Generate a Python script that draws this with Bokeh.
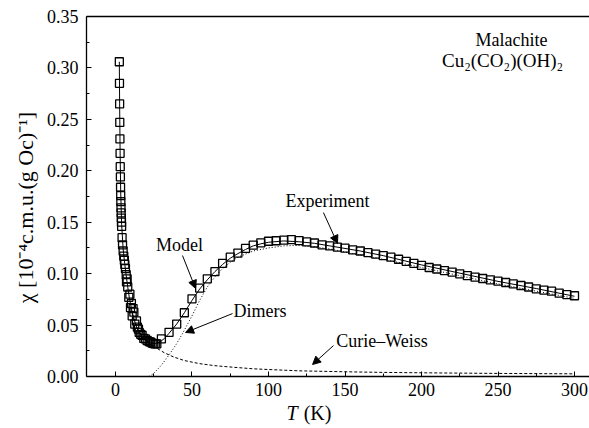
import math
from bokeh.plotting import figure
from bokeh.models import FixedTicker, Label, Arrow, NormalHead, PrintfTickFormatter, LinearAxis
from bokeh.embed import file_html
from bokeh.resources import INLINE

# ---- data ----
exp_T_low = [2.5, 2.6, 2.7, 2.8, 2.9, 3.0, 3.1, 3.2, 3.3, 3.4, 3.5, 3.6, 3.7, 3.8, 3.9, 4.0,
             4.3, 4.6, 5.0, 5.4, 5.8, 6.1, 6.5, 7.0, 7.2, 7.6, 8.0, 8.7, 9.4, 9.8, 10.4, 10.9,
             11.5, 12.0, 12.6, 13.7, 14.3, 15.0, 15.5, 16.5, 17.4, 18.5, 19.5, 20.7, 22.0,
             23.0, 24.0, 25.0, 26.0, 27.0]
exp_chi_low = [0.306, 0.285, 0.265, 0.247, 0.231, 0.217, 0.204, 0.194, 0.184, 0.176, 0.170,
               0.164, 0.159, 0.154, 0.150, 0.146, 0.135, 0.128, 0.122, 0.117, 0.113, 0.109,
               0.105, 0.099, 0.092, 0.095, 0.087, 0.077, 0.080, 0.067, 0.071, 0.059, 0.066,
               0.0625, 0.051, 0.054, 0.048, 0.046, 0.043, 0.041, 0.040, 0.037, 0.0365, 0.035,
               0.034, 0.0334, 0.0324, 0.032, 0.0318, 0.0318]
exp_T_high = [30, 35, 40, 45, 50, 55, 60, 65, 70, 75, 80, 85, 90, 95, 100, 105, 110, 115, 120,
              125, 130, 135, 140, 145, 150, 155, 160, 165, 170, 175, 180, 185, 190, 195, 200,
              205, 210, 215, 220, 225, 230, 235, 240, 245, 250, 255, 260, 265, 270, 275, 280,
              285, 290, 295, 300]
exp_chi_high = [0.0366, 0.043, 0.051, 0.062, 0.0755, 0.086, 0.095, 0.102, 0.110, 0.116, 0.120,
                0.1245, 0.1277, 0.130, 0.1315, 0.132, 0.1325, 0.133, 0.1322, 0.1308, 0.1298,
                0.128, 0.127, 0.1257, 0.1248, 0.1232, 0.122, 0.1205, 0.119, 0.1176, 0.116,
                0.114, 0.112, 0.110, 0.108, 0.106, 0.1045, 0.103, 0.1015, 0.0998, 0.098,
                0.0966, 0.0953, 0.094, 0.0927, 0.0914, 0.090, 0.0885, 0.087, 0.0852, 0.084,
                0.083, 0.081, 0.0797, 0.0785]

model_T = [2.5, 2.7, 3.0, 3.4, 4.0, 5.0, 6.0, 7.0, 8.0, 9.0, 10, 11, 12.5, 14, 16, 18, 20, 23,
           26, 29, 32, 35, 40, 45, 50, 55, 60, 65, 70, 75, 80, 85, 90, 95, 100, 110, 120, 130,
           140, 150, 160, 175, 200, 225, 250, 275, 300]
model_chi = [0.306, 0.265, 0.220, 0.180, 0.148, 0.124, 0.110, 0.098, 0.087, 0.077, 0.069,
             0.062, 0.054, 0.047, 0.041, 0.037, 0.0345, 0.0325, 0.032, 0.0335, 0.037, 0.042,
             0.051, 0.062, 0.074, 0.085, 0.094, 0.102, 0.109, 0.115, 0.1195, 0.1235, 0.127,
             0.129, 0.1305, 0.1318, 0.131, 0.1295, 0.127, 0.1245, 0.122, 0.1175, 0.1085,
             0.1005, 0.0925, 0.0855, 0.078]

dimer_T = [22, 25, 30, 35, 40, 45, 50, 55, 60, 65, 70, 75, 80, 90, 100, 110, 120, 130, 140,
           150, 160, 175, 200, 225, 250, 275, 300]
dimer_chi = [0.0, 0.003, 0.011, 0.021, 0.032, 0.045, 0.059, 0.074, 0.087, 0.097, 0.105, 0.111,
             0.116, 0.122, 0.125, 0.127, 0.1275, 0.126, 0.124, 0.121, 0.118, 0.114, 0.106,
             0.098, 0.090, 0.083, 0.076]

cw_T = [10, 12, 15, 18, 22, 27, 32, 38, 45, 55, 65, 77, 90, 100, 120, 150, 175, 200, 250, 300]
cw_chi = [0.066, 0.055, 0.045, 0.038, 0.032, 0.0275, 0.023, 0.019, 0.0155, 0.0125, 0.0105,
          0.009, 0.0075, 0.0068, 0.0055, 0.0046, 0.004, 0.0036, 0.003, 0.0026]

x_ticks = [0, 50, 100, 150, 200, 250, 300]
x_minor = [25, 75, 125, 175, 225, 275]
y_ticks = [0.0, 0.05, 0.10, 0.15, 0.20, 0.25, 0.30, 0.35]
y_minor = [0.025, 0.075, 0.125, 0.175, 0.225, 0.275, 0.325]

FONT = "Liberation Serif"
X_LO, X_HI = -18.95, 309.8     # visible axis extent
Y_LO, Y_HI = 0.0, 0.35

# frame covers the whole canvas; axes are placed at fixed locations so that
# every text (including axis titles) lives inside the frame
p = figure(width=589, height=428, x_range=(-75.16, 309.8), y_range=(-0.05055, 0.36556),
           output_backend="svg", toolbar_location=None,
           min_border_left=0, min_border_right=0, min_border_top=0, min_border_bottom=0)

p.xgrid.grid_line_color = None
p.ygrid.grid_line_color = None
p.outline_line_color = None
p.background_fill_color = "white"
p.border_fill_color = "white"

p.xaxis.fixed_location = Y_LO
p.xaxis.bounds = (X_LO, X_HI)
p.yaxis.fixed_location = X_LO
p.yaxis.bounds = (Y_LO, Y_HI)

for ax in (p.xaxis[0], p.yaxis[0]):
    ax.axis_line_width = 1.3
    ax.major_tick_in = 5
    ax.major_tick_out = 0
    ax.minor_tick_in = 3
    ax.minor_tick_out = 0
    ax.major_tick_line_width = 1
    ax.minor_tick_line_width = 1
    ax.major_label_text_font = FONT
    ax.major_label_text_font_size = "18px"
    ax.major_label_text_color = "black"

p.xaxis.major_label_standoff = 6
p.yaxis.major_label_standoff = 8
p.xaxis.ticker = FixedTicker(ticks=x_ticks, minor_ticks=x_minor)
p.yaxis.ticker = FixedTicker(ticks=y_ticks, minor_ticks=y_minor)
p.yaxis.formatter = PrintfTickFormatter(format="%.2f")

# top frame line
top = LinearAxis(fixed_location=Y_HI, bounds=(X_LO, X_HI), ticker=FixedTicker(ticks=[]),
                 axis_line_width=1.3, major_label_text_font_size="0px",
                 major_tick_line_color=None, minor_tick_line_color=None)
p.add_layout(top, "above")

# curves
p.line(cw_T, cw_chi, line_color="black", line_width=1, line_dash="3 2")
p.line(dimer_T, dimer_chi, line_color="black", line_width=1, line_dash="1 2")
p.line(model_T, model_chi, line_color="black", line_width=1)
p.scatter(exp_T_low + exp_T_high, exp_chi_low + exp_chi_high, marker="square", size=8,
          fill_color=None, line_color="black", line_width=1.3)

# annotations
def lab(x, y, t, size="18px", style="normal", align="center", angle=0.0):
    p.add_layout(Label(x=x, y=y, text=t, text_font=FONT, text_font_size=size,
                       text_font_style=style, text_align=align, text_baseline="middle",
                       text_color="black", angle=angle))

lab(258.8, 0.3276, "Malachite")
lab(253.0, 0.3072, "Cu₂(CO₂)(OH)₂", size="19px")
lab(138.6, 0.171, "Experiment")
lab(41.8, 0.1274, "Model")
lab(94.4, 0.0632, "Dimers")
lab(174.2, 0.035, "Curie–Weiss")

# axis titles
lab(-58.8, 0.1643, "χ [10⁻⁴c.m.u.(g Oc)⁻¹]", size="22px", angle=math.pi / 2)
lab(119.0, -0.0355, "T", size="20px", style="italic", align="right")
lab(123.0, -0.0355, "(K)", size="20px", align="left")

def arr(x0, y0, x1, y1):
    p.add_layout(Arrow(end=NormalHead(size=8, fill_color="black", line_color="black", line_width=1),
                       x_start=x0, y_start=y0, x_end=x1, y_end=y1,
                       line_color="black", line_width=1))

arr(135.9, 0.1594, 145.1, 0.1293)
arr(43.8, 0.1176, 52.3, 0.0856)
arr(76.5, 0.0612, 45.8, 0.0428)
arr(142.5, 0.0301, 128.8, 0.0117)

open("out.html", "w").write(file_html(p, INLINE))
